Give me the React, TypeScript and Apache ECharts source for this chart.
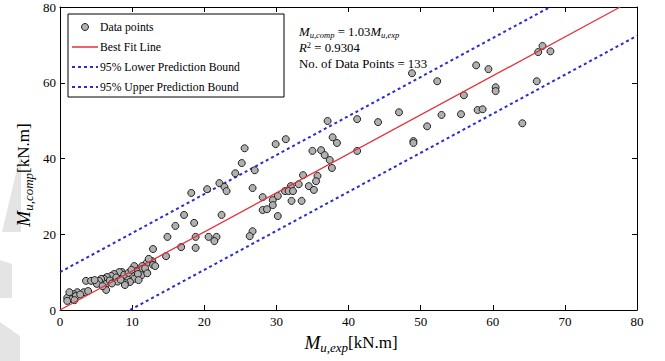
import React, { useEffect, useRef } from "react";
import * as echarts from "echarts";

const FONT = "Liberation Serif";

const xTicks = { min: 0, max: 80, interval: 10 };
const yTicks = { min: 0, max: 80, interval: 20 };

// [M_u,exp, M_u,comp]
const dataPoints: number[][] = [
  [66.3, 68.1], [66.9, 69.7], [68.0, 68.3], [66.1, 60.4], [60.4, 58.8], [60.4, 57.8],
  [64.1, 49.3], [57.7, 64.6], [59.4, 63.6], [48.8, 62.5], [52.3, 60.4], [56.0, 56.7],
  [47.0, 52.2], [44.1, 49.6], [52.9, 51.5], [55.6, 51.7], [57.9, 52.8], [58.6, 53.0],
  [50.9, 48.5], [49.0, 44.6], [49.0, 44.1],
  [37.1, 49.9], [41.2, 50.4], [29.9, 43.8], [31.3, 45.1], [37.8, 45.6], [38.4, 44.1],
  [35.0, 42.0], [36.2, 42.2], [36.7, 40.9], [37.4, 39.6], [41.2, 42.0], [37.7, 37.5],
  [27.0, 36.9], [33.7, 35.6], [35.7, 35.4], [35.5, 34.0], [33.1, 33.2], [34.5, 32.7],
  [35.2, 31.7], [32.0, 32.7], [31.2, 31.4], [31.7, 31.4], [32.3, 31.4], [26.7, 32.2],
  [30.2, 30.1], [28.1, 29.8], [29.5, 29.0], [32.1, 28.8], [33.5, 28.8], [29.5, 27.7],
  [28.1, 26.4], [28.7, 26.6], [30.2, 24.8],
  [25.6, 42.7], [25.2, 38.8], [24.3, 36.1], [22.1, 33.5], [22.8, 32.5], [23.1, 31.4],
  [20.4, 31.9], [18.2, 30.9], [17.2, 25.1], [18.6, 23.0], [22.4, 25.1], [16.0, 22.2],
  [14.9, 19.3], [18.8, 19.3], [20.6, 19.3], [21.7, 19.3], [21.4, 18.2], [26.7, 20.8],
  [26.3, 19.5], [16.8, 16.6], [18.8, 16.4], [12.9, 16.1], [14.7, 14.2], [12.8, 12.9],
  [12.0, 12.4], [12.9, 11.9], [11.4, 11.6],
  [10.3, 11.6], [11.4, 10.8], [12.0, 10.0], [10.6, 10.3], [11.3, 9.2], [10.0, 9.0],
  [10.3, 8.2], [9.3, 8.2], [9.7, 7.4], [9.0, 7.1], [8.6, 10.0], [8.2, 10.0],
  [7.5, 9.5], [7.1, 9.0], [6.5, 8.7], [6.1, 8.2], [5.7, 8.2], [5.4, 7.7],
  [9.0, 6.6], [6.4, 6.9], [6.4, 5.3], [3.6, 7.7], [4.3, 7.7], [5.1, 6.9],
  [3.3, 4.7], [2.4, 4.7], [1.9, 4.2], [1.5, 3.7], [1.0, 3.2], [1.7, 2.9],
  [2.2, 3.7], [1.3, 4.7], [1.0, 2.4],
  [7.8, 8.6], [8.9, 9.3], [9.5, 9.8], [10.8, 9.5], [6.9, 7.8], [8.0, 7.5],
  [4.8, 7.9], [2.8, 4.1], [3.9, 5.0], [11.8, 11.0], [12.3, 13.5], [13.2, 11.6],
  [7.2, 7.0], [9.9, 10.6], [8.4, 8.0], [10.9, 7.9], [5.9, 6.3], [2.0, 2.6],
  [12.1, 9.7],
];

// line endpoints (fit: y = 1.03x, bounds ±10)
const bestFitLine: number[][] = [[0, 0], [77.67, 80]];
const lowerBound: number[][] = [[9.71, 0], [80, 72.4]];
const upperBound: number[][] = [[0, 10], [67.96, 80]];

const legendLabels = [
  "Data points",
  "Best Fit Line",
  "95% Lower Prediction Bound",
  "95% Upper Prediction Bound",
];

const RED = "#e3323c";
const BLUE = "#2b2bd4";

export default function App() {
  const ref = useRef<HTMLDivElement>(null);

  useEffect(() => {
    if (!ref.current) return;
    const chart = echarts.init(ref.current, undefined, { renderer: "svg" });

    const axisCommon = {
      type: "value" as const,
      axisLine: { show: true, onZero: false, lineStyle: { color: "#000", width: 1 } },
      axisTick: { show: true, inside: true, length: 5, lineStyle: { color: "#000" } },
      splitLine: { show: false },
    };
    const labelStyle = { color: "#000", fontFamily: FONT, fontSize: 13 };

    const legendY = [27, 47, 67, 87];

    const titleRich = {
      m: { fontFamily: FONT, fontStyle: "italic", fontSize: 19, fill: "#000" },
      s: { fontFamily: FONT, fontStyle: "italic", fontSize: 13, fill: "#000", padding: [11, 0, 0, 0] },
      t: { fontFamily: FONT, fontSize: 17, fill: "#000" },
    };

    const annX = 299;

    const graphic: any[] = [
      // faint watermark shapes at left edge
      { type: "polygon", shape: { points: [[21, 152], [21, 232], [2, 232]] }, style: { fill: "#e4e4e4" }, silent: true },
      { type: "polygon", shape: { points: [[0, 260], [12, 264], [12, 298], [0, 298]] }, style: { fill: "#e4e4e4" }, silent: true },
      { type: "polygon", shape: { points: [[0, 322], [20, 336], [20, 361], [0, 361]] }, style: { fill: "#e4e4e4" }, silent: true },
      // legend box
      { type: "rect", shape: { x: 68, y: 14, width: 216, height: 83 }, style: { fill: "#fff", stroke: "#000", lineWidth: 1 }, z: 10 },
      { type: "circle", shape: { cx: 85, cy: legendY[0], r: 3.5 }, style: { fill: "#b0b0b0", stroke: "#222", lineWidth: 1 }, z: 11 },
      { type: "line", shape: { x1: 72, y1: legendY[1], x2: 98, y2: legendY[1] }, style: { stroke: RED, lineWidth: 1.5 }, z: 11 },
      { type: "line", shape: { x1: 72, y1: legendY[2], x2: 98, y2: legendY[2] }, style: { stroke: BLUE, lineWidth: 2, lineDash: [3, 3] }, z: 11 },
      { type: "line", shape: { x1: 72, y1: legendY[3], x2: 98, y2: legendY[3] }, style: { stroke: BLUE, lineWidth: 2, lineDash: [3, 3] }, z: 11 },
      ...legendLabels.map((t, i) => ({
        type: "text", x: 100, y: legendY[i], z: 11,
        style: { text: t, fill: "#000", fontFamily: FONT, fontSize: 11.7, verticalAlign: "middle", align: "left" },
      })),
      // annotations
      {
        type: "text", x: annX, y: 32, z: 11,
        style: {
          text: "{m|M}{s|u,comp}{t| = 1.03}{m|M}{s|u,exp}",
          verticalAlign: "middle", align: "left",
          rich: {
            m: { fontFamily: FONT, fontStyle: "italic", fontSize: 12.8, fill: "#000" },
            s: { fontFamily: FONT, fontStyle: "italic", fontSize: 8.5, fill: "#000", padding: [6, 0, 0, 0] },
            t: { fontFamily: FONT, fontSize: 12.8, fill: "#000" },
          },
        },
      },
      {
        type: "text", x: annX, y: 48, z: 11,
        style: {
          text: "{i|R}{p|2}{t| = 0.9304}",
          verticalAlign: "middle", align: "left",
          rich: {
            i: { fontFamily: FONT, fontStyle: "italic", fontSize: 12.8, fill: "#000" },
            p: { fontFamily: FONT, fontSize: 8.5, fill: "#000", padding: [0, 0, 6, 0] },
            t: { fontFamily: FONT, fontSize: 12.8, fill: "#000" },
          },
        },
      },
      {
        type: "text", x: annX, y: 64, z: 11,
        style: { text: "No. of Data Points = 133", fill: "#000", fontFamily: FONT, fontSize: 12.8, verticalAlign: "middle", align: "left" },
      },
      // x axis title
      {
        type: "text", x: 351, y: 342, z: 11,
        style: { text: "{m|M}{s|u,exp}{t|[kN.m]}", verticalAlign: "middle", align: "center", rich: titleRich },
      },
      // y axis title
      {
        type: "text", x: 23, y: 175, rotation: Math.PI / 2, z: 11,
        style: { text: "{m|M}{s|u,comp}{t|[kN.m]}", verticalAlign: "middle", align: "center", rich: titleRich },
      },
    ];

    chart.setOption({
      animation: false,
      backgroundColor: "#fff",
      textStyle: { fontFamily: FONT },
      grid: { left: 60, right: 28, top: 7, bottom: 51, containLabel: false },
      xAxis: [
        { ...axisCommon, ...xTicks, position: "bottom", axisLabel: { ...labelStyle, margin: 5 } },
        { ...axisCommon, ...xTicks, position: "top", axisLabel: { show: false } },
      ],
      yAxis: [
        { ...axisCommon, ...yTicks, position: "left", axisLabel: { ...labelStyle, margin: 4 } },
        { ...axisCommon, ...yTicks, position: "right", axisLabel: { show: false } },
      ],
      series: [
        {
          type: "line", name: "95% Lower Prediction Bound", data: lowerBound, showSymbol: false, symbol: "none",
          lineStyle: { color: BLUE, width: 2, type: [3, 3] }, z: 2,
        },
        {
          type: "line", name: "95% Upper Prediction Bound", data: upperBound, showSymbol: false, symbol: "none",
          lineStyle: { color: BLUE, width: 2, type: [3, 3] }, z: 2,
        },
        {
          type: "scatter", name: "Data points", data: dataPoints, symbol: "circle", symbolSize: 7,
          itemStyle: { color: "#b0b0b0", borderColor: "#222", borderWidth: 1, opacity: 1 }, z: 3,
        },
        {
          type: "line", name: "Best Fit Line", data: bestFitLine, showSymbol: false, symbol: "none",
          lineStyle: { color: RED, width: 1.3 }, z: 4,
        },
      ],
      graphic,
    });

    return () => chart.dispose();
  }, []);

  return <div ref={ref} style={{ width: 665, height: 361, position: "fixed", left: 0, top: 0 }} />;
}
